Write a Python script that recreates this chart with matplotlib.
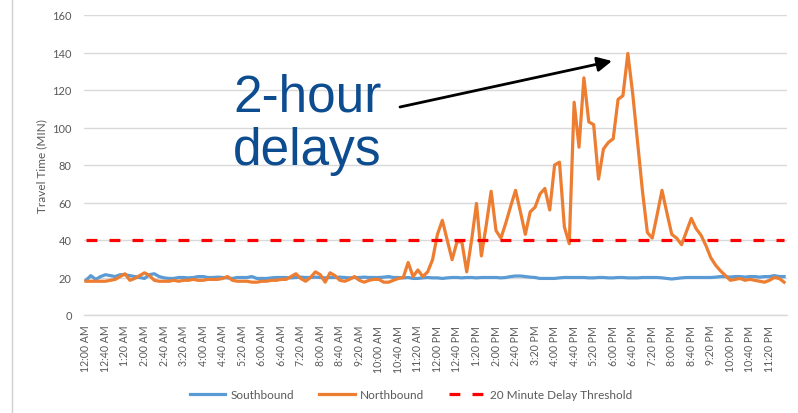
import numpy as np
import matplotlib as mpl
mpl.use("Agg")
import matplotlib.pyplot as plt
from matplotlib.lines import Line2D

# colors (Excel defaults)
blue = '#5B9BD5'
orange = '#ED7D31'
red = '#FF0000'
grid_gray = '#D9D9D9'
text_gray = '#595959'
note_blue = '#0D4C8F'

# data: travel time every 10 min, 12:00 AM .. 11:50 PM
northbound = [
    18, 18, 18, 18, 18, 18.5, 19, 20.5, 22, 18.5, 19.5, 21,
    22.5, 21, 18.5, 18, 18, 18, 18.5, 18, 18.5, 18.5, 19, 18.5,
    18.5, 19, 19, 19, 19.5, 20.5, 18.5, 18, 18, 18, 17.5, 17.5,
    18, 18, 18.5, 18.5, 19, 19, 20.5, 22, 19.5, 18, 20, 23,
    21.5, 17.5, 22.5, 21, 18.5, 18, 19, 20.5, 18.5, 17.5, 18.5, 19,
    19, 17.5, 17.5, 18.5, 19.5, 20, 28, 20.5, 24, 20.5, 23, 29.5,
    43, 50.5, 40, 29.5, 39, 39, 23, 40, 59.5, 31.5, 48, 66,
    45, 41, 49, 58, 66.5, 55, 43, 55, 57.5, 64.5, 67.5, 56,
    80, 81.5, 47, 38, 113.5, 89.5, 126.5, 103, 101.5, 72.5, 88.5, 92,
    94, 115, 117, 139.5, 118, 92, 66, 44, 41, 53.5, 66.5, 54.5,
    43, 41, 37.5, 44.5, 51.5, 46, 42.5, 37, 30.5, 26.5, 23.5, 21,
    18.5, 19, 19.5, 18.5, 19, 18.5, 18, 17.5, 18.5, 20, 19.5, 17.5,
]
southbound = [
    18.5, 21, 19, 20.5, 21.5, 21, 20.5, 21.5, 21.5, 21, 20.5, 20,
    19.5, 21.5, 22, 20.5, 19.8, 19.5, 19.5, 20, 20, 19.8, 20, 20.5,
    20.5, 20, 20, 20.2, 20, 19.8, 19.5, 20, 20, 20, 20.5, 19.5,
    19.5, 19.5, 19.8, 20, 20, 20, 19.8, 20, 20.2, 20, 20, 20.2,
    20, 19.8, 20, 20, 20.2, 20, 19.8, 20, 20, 20.2, 20, 20,
    20, 20.2, 20.5, 20, 20, 19.8, 20, 19.5, 19.5, 19.8, 20, 19.8,
    19.8, 19.5, 19.8, 20, 20, 19.8, 20, 20, 19.8, 20, 20, 20,
    20, 19.8, 20, 20.5, 20.8, 20.8, 20.5, 20.2, 20, 19.5, 19.5, 19.5,
    19.5, 19.8, 20, 20, 20, 20, 20, 19.8, 19.8, 20, 20, 19.8,
    19.8, 20, 20, 19.8, 19.8, 19.8, 20, 20, 20, 20, 19.8, 19.5,
    19.2, 19.5, 19.8, 20, 20, 20, 20, 20, 20, 20.2, 20.5, 20.5,
    20.2, 20.5, 20.5, 20.2, 20.5, 20.5, 20.2, 20.5, 20.5, 21, 20.5, 20.5,
]
threshold = 40
y_ticks = [0, 20, 40, 60, 80, 100, 120, 140, 160]

# category labels
minutes = np.arange(len(northbound)) * 10
def fmt(m):
    h = (m // 60) % 12
    h = 12 if h == 0 else h
    return '{}:{:02d} {}'.format(h, m % 60, 'AM' if m < 720 else 'PM')
time_labels = [fmt(m) for m in minutes]

plt.rcParams['font.family'] = ['Lato', 'DejaVu Sans']

fig = plt.figure(figsize=(7.98, 4.14), dpi=100)
ax = fig.add_axes([83.5 / 798, 1 - 316 / 414, 703 / 798, 300 / 414])

x = np.arange(len(northbound))
ax.plot(x, southbound, color=blue, lw=2.3, label='Southbound', solid_joinstyle='round')
ax.plot(x, northbound, color=orange, lw=2.3, label='Northbound', solid_joinstyle='round')
ax.plot(x, [threshold] * len(x), color=red, lw=2.3, linestyle=(0, (3.4, 3.8)),
        label='20 Minute Delay Threshold')

ax.set_xlim(-0.5, len(x) - 0.5)
ax.set_ylim(0, 160)
ax.set_yticks(y_ticks)
ax.yaxis.grid(True, color=grid_gray, lw=1)
ax.set_axisbelow(True)
for s in ['top', 'right', 'left']:
    ax.spines[s].set_visible(False)
ax.spines['bottom'].set_color(grid_gray)
ax.spines['bottom'].set_linewidth(1)
ax.tick_params(axis='y', length=0, pad=8.5, labelsize=8, labelcolor=text_gray)

idx = x[::4]
ax.set_xticks(idx)
ax.set_xticklabels([time_labels[i] for i in idx], rotation=90, va='top', ha='center')
ax.tick_params(axis='x', length=0, pad=7, labelsize=7.6, labelcolor=text_gray)

fig.text(42 / 798, 1 - 166 / 414, 'Travel Time (MIN)', rotation=90, ha='center',
         va='center', fontsize=8.5, color=text_gray)

fig.legend(loc='center', bbox_to_anchor=(411 / 798, 1 - 396 / 414), ncol=3,
           frameon=False, fontsize=8.5, handlelength=3.0, handletextpad=0.45,
           columnspacing=2.1, labelcolor=text_gray)

# annotation
fig.text(233 / 798, 1 - 112 / 414, '2-hour', fontsize=37, color=note_blue,
         family='Liberation Sans', ha='left', va='baseline')
fig.text(233 / 798, 1 - 165 / 414, 'delays', fontsize=37, color=note_blue,
         family='Liberation Sans', ha='left', va='baseline')
ax.annotate('', xy=(612, 414 - 62), xycoords='figure pixels',
            xytext=(400, 414 - 108), textcoords='figure pixels',
            arrowprops=dict(arrowstyle='-|>', color='black', lw=2,
                            mutation_scale=22, shrinkA=0, shrinkB=0))

# chart frame edge on the left
fig.add_artist(Line2D([12 / 798, 12 / 798], [0, 1], transform=fig.transFigure,
                      color='#D0D0D0', lw=1))

fig.savefig('out.png', dpi=100)
